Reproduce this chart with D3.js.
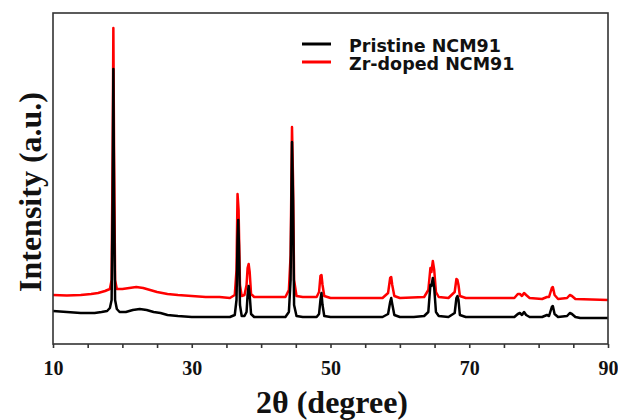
<!DOCTYPE html>
<html>
<head>
<meta charset="utf-8">
<script src="https://cdn.jsdelivr.net/npm/d3@7"></script>
<style>
    html, body { margin: 0; padding: 0; background: #fff; }
    .tick-label { font-family: "Liberation Serif", "Times New Roman", serif; font-weight: bold; font-size: 20px; }
    .axis-title { font-family: "Liberation Serif", "Times New Roman", serif; font-weight: bold; font-size: 32px; }
    .legend-text { font-family: "DejaVu Sans", sans-serif; font-weight: bold; font-size: 17.5px; }
</style>
</head>
<body>
<svg id="SVGxrd" width="618" height="420"></svg>
<script>
"use strict";

/** x 轴主刻度 (2θ) */
const majorTicks = [10, 30, 50, 70, 90];
/** x 轴次刻度 */
const minorTicks = [15, 20, 25, 35, 40, 45, 55, 60, 65, 75, 80, 85];
/** 图例名称 */
const seriesNames = ["Pristine NCM91", "Zr-doped NCM91"];
/** 图例颜色 */
const seriesColors = ["#000000", "#ff0000"];

/** Pristine NCM91: [2θ, intensity] */
const pristineData = [
    [10, 330], [11, 325], [12, 320], [13, 315], [14, 310], [15, 310], [16, 310], [17, 320],
    [17.8, 330], [18.2, 360], [18.45, 440], [18.6, 1440], [18.7, 2750], [18.8, 1440], [18.95, 440],
    [19.2, 350], [19.6, 320], [20.5, 320], [21.5, 340], [22.5, 350], [23.5, 340], [24.5, 320],
    [25.5, 310], [26.5, 290], [28, 280], [30, 270], [32, 270], [34, 270], [35.5, 270],
    [36.2, 290], [36.45, 440], [36.6, 1040], [36.7, 1240], [36.8, 990], [36.95, 390], [37.2, 280],
    [37.6, 280], [37.9, 320], [38.05, 490], [38.2, 580], [38.35, 490], [38.55, 300], [39, 270],
    [40, 270], [42, 270], [43.5, 270], [44.0, 320], [44.25, 640], [44.45, 2020], [44.6, 1440],
    [44.75, 390], [45.1, 280], [46, 270], [48, 270], [48.35, 300], [48.55, 440], [48.7, 510],
    [48.85, 390], [49.1, 280], [50, 270], [54, 270], [57.5, 270], [58.3, 300], [58.6, 420],
    [58.75, 460], [58.9, 400], [59.2, 290], [60, 270], [62, 270], [63.5, 280], [64.1, 320],
    [64.4, 590], [64.55, 580], [64.75, 660], [64.95, 560], [65.2, 320], [65.6, 280], [67, 270],
    [67.9, 310], [68.15, 460], [68.3, 480], [68.45, 440], [68.65, 290], [69.5, 270], [72, 270],
    [75, 270], [76.5, 270], [77.0, 300], [77.3, 310], [77.6, 290], [77.9, 320], [78.2, 290],
    [78.7, 270], [80.5, 270], [81.2, 290], [81.5, 280], [81.9, 370], [82.05, 380], [82.3, 300],
    [82.8, 270], [84.1, 280], [84.5, 310], [84.8, 300], [85.3, 270], [86, 260], [90, 260]
];

/** Zr-doped NCM91: [2θ, intensity] */
const dopedData = [
    [10, 490], [12, 485], [14, 490], [15.5, 500], [16.5, 510], [17.5, 530], [18.2, 550],
    [18.45, 640], [18.6, 1940], [18.7, 3160], [18.8, 1940], [18.95, 640], [19.2, 550], [20, 550],
    [21, 560], [22, 570], [23, 560], [24, 540], [25, 520], [26.5, 500], [28, 490], [30, 480],
    [32, 470], [34, 470], [35.5, 460], [36.2, 490], [36.45, 740], [36.6, 1500], [36.75, 1340],
    [36.95, 590], [37.2, 480], [37.6, 490], [37.9, 590], [38.05, 760], [38.2, 800], [38.35, 720],
    [38.55, 500], [39, 470], [41, 470], [43.5, 470], [44.0, 540], [44.25, 890], [44.45, 2170],
    [44.6, 1640], [44.75, 640], [45.1, 480], [46, 470], [48, 470], [48.35, 520], [48.55, 680],
    [48.7, 690], [48.85, 590], [49.1, 480], [50, 460], [54, 460], [57.5, 460], [58.3, 510],
    [58.6, 660], [58.75, 670], [58.9, 590], [59.2, 480], [60, 460], [63.5, 470], [64.1, 540],
    [64.4, 760], [64.55, 720], [64.75, 830], [64.95, 740], [65.2, 520], [65.6, 470], [67, 460],
    [67.9, 520], [68.15, 650], [68.3, 640], [68.45, 590], [68.65, 480], [69.5, 460], [72, 460],
    [76.5, 460], [77.0, 500], [77.3, 500], [77.6, 480], [77.9, 510], [78.2, 490], [78.7, 460],
    [80.5, 450], [81.2, 470], [81.5, 470], [81.9, 560], [82.05, 570], [82.3, 490], [82.8, 450],
    [84.1, 460], [84.5, 490], [84.8, 480], [85.3, 450], [90, 440]
];

/**
 * XRD 图封装对象
 */
const xrdChart = {
    SVG: d3.select("#SVGxrd"),
    width: 618,
    height: 420,
    padding: { top: 13, right: 10, bottom: 76, left: 53 },
    render: () => {
        const p = xrdChart.padding;
        const x = d3.scaleLinear().domain([10, 90]).range([p.left, xrdChart.width - p.right]);
        const y = d3.scaleLinear().domain([0, 3310]).range([xrdChart.height - p.bottom, p.top]);

        const line = d3.line().x(d => x(d[0])).y(d => y(d[1]));

        // 数据曲线：红色在下，黑色在上
        const series = [dopedData, pristineData];
        const colors = [seriesColors[1], seriesColors[0]];
        xrdChart.SVG.selectAll(".trace")
            .data(series)
            .enter()
            .append("path")
            .attr("class", "trace")
            .attr("d", d => line(d))
            .style("fill", "none")
            .style("stroke", (d, i) => colors[i])
            .style("stroke-width", 2.5)
            .style("stroke-linejoin", "round");

        // 外框
        xrdChart.SVG.append("rect")
            .attr("x", p.left)
            .attr("y", p.top)
            .attr("width", xrdChart.width - p.left - p.right)
            .attr("height", xrdChart.height - p.top - p.bottom)
            .style("fill", "none")
            .style("stroke", "#333")
            .style("stroke-width", 1.6);

        // x 轴刻度
        const xAxis = d3.axisBottom(x)
            .tickValues(majorTicks.concat(minorTicks).sort((a, b) => a - b))
            .tickSize(4)
            .tickFormat(d => majorTicks.includes(d) ? d : "");
        const gx = xrdChart.SVG.append("g")
            .attr("transform", "translate(0," + (xrdChart.height - p.bottom) + ")")
            .call(xAxis);
        gx.select(".domain").remove();
        gx.selectAll(".tick line").style("stroke", "#333").style("stroke-width", 1.6);
        gx.selectAll(".tick text")
            .attr("class", "tick-label")
            .attr("y", 13)
            .attr("dy", "0.9em")
            .style("fill", "#111");

        // 坐标轴标题
        xrdChart.SVG.append("text")
            .attr("class", "axis-title")
            .attr("x", 332)
            .attr("y", 413)
            .attr("text-anchor", "middle")
            .style("fill", "#111")
            .text("2θ (degree)");
        xrdChart.SVG.append("text")
            .attr("class", "axis-title")
            .attr("transform", "translate(41,192) rotate(-90)")
            .attr("text-anchor", "middle")
            .style("fill", "#111")
            .text("Intensity (a.u.)");

        // 图例
        const legend = xrdChart.SVG.selectAll(".legend")
            .data(seriesNames)
            .enter()
            .append("g")
            .attr("class", "legend")
            .attr("transform", (d, i) => "translate(302," + (44 + i * 18) + ")");
        legend.append("line")
            .attr("x1", 0).attr("x2", 29)
            .style("stroke", (d, i) => seriesColors[i])
            .style("stroke-width", 3);
        legend.append("text")
            .attr("class", "legend-text")
            .attr("x", 47)
            .attr("y", 8)
            .style("fill", "#111")
            .text(d => d);
    }
};

xrdChart.render();
</script>
</body>
</html>
